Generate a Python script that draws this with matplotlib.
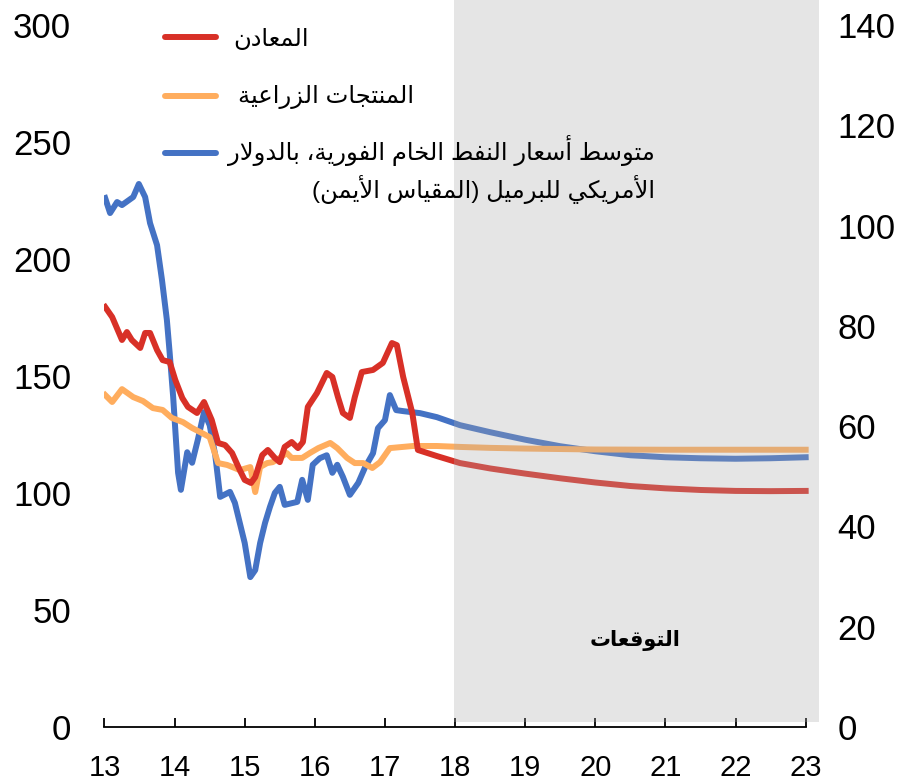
import matplotlib
matplotlib.use("Agg")
import matplotlib.pyplot as plt
from matplotlib.lines import Line2D

plt.rcParams['font.family'] = ['Liberation Sans', 'DejaVu Sans']

# --- minimal Arabic shaping (presentation forms + visual order) ---
_TABLE = [('ء', 0xFE80, 1), ('آ', 0xFE81, 2), ('أ', 0xFE83, 2), ('ؤ', 0xFE85, 2),
          ('إ', 0xFE87, 2), ('ئ', 0xFE89, 4), ('ا', 0xFE8D, 2), ('ب', 0xFE8F, 4),
          ('ة', 0xFE93, 2), ('ت', 0xFE95, 4), ('ث', 0xFE99, 4), ('ج', 0xFE9D, 4),
          ('ح', 0xFEA1, 4), ('خ', 0xFEA5, 4), ('د', 0xFEA9, 2), ('ذ', 0xFEAB, 2),
          ('ر', 0xFEAD, 2), ('ز', 0xFEAF, 2), ('س', 0xFEB1, 4), ('ش', 0xFEB5, 4),
          ('ص', 0xFEB9, 4), ('ض', 0xFEBD, 4), ('ط', 0xFEC1, 4), ('ظ', 0xFEC5, 4),
          ('ع', 0xFEC9, 4), ('غ', 0xFECD, 4), ('ف', 0xFED1, 4), ('ق', 0xFED5, 4),
          ('ك', 0xFED9, 4), ('ل', 0xFEDD, 4), ('م', 0xFEE1, 4), ('ن', 0xFEE5, 4),
          ('ه', 0xFEE9, 4), ('و', 0xFEED, 2), ('ى', 0xFEEF, 2), ('ي', 0xFEF1, 4)]
FORMS = {c: (base, n) for c, base, n in _TABLE}
LAM_ALEF = {'ا': 0xFEFB, 'أ': 0xFEF7, 'إ': 0xFEF9, 'آ': 0xFEF5}


def shape(text):
    # merge lam-alef first
    units = []
    i = 0
    while i < len(text):
        c = text[i]
        if c == 'ل' and i + 1 < len(text) and text[i + 1] in LAM_ALEF:
            units.append(('LA', LAM_ALEF[text[i + 1]]))
            i += 2
        else:
            units.append(('C', c))
            i += 1

    def joining(u):
        if u is None:
            return 'U'
        if u[0] == 'LA':
            return 'R'
        if u[1] in FORMS:
            n = FORMS[u[1]][1]
            return {1: 'U', 2: 'R', 4: 'D'}[n]
        return 'U'

    out = []
    for k, u in enumerate(units):
        prev = units[k - 1] if k > 0 else None
        nxt = units[k + 1] if k + 1 < len(units) else None
        jt = joining(u)
        jp = jt != 'U' and joining(prev) == 'D'
        jn = jt == 'D' and joining(nxt) in ('D', 'R')
        if u[0] == 'LA':
            out.append(chr(u[1] + (1 if jp else 0)))
            continue
        if jt == 'U':
            out.append(u[1])
            continue
        base = FORMS[u[1]][0]
        if jp and jn:
            off = 3
        elif jp:
            off = 1
        elif jn:
            off = 2
        else:
            off = 0
        out.append(chr(base + off))
    vis = ''.join(reversed(out))
    return vis.translate(str.maketrans('()', ')('))


# --- data (years as decimal) ---
metals_t = [13.01, 13.11, 13.25, 13.32, 13.39, 13.51, 13.58, 13.65, 13.75, 13.83, 13.93,
            14.01, 14.11, 14.19, 14.32, 14.42, 14.53, 14.62, 14.72, 14.82, 14.93, 15.00,
            15.09, 15.15, 15.25, 15.33, 15.43, 15.50, 15.57, 15.67, 15.76, 15.83, 15.90,
            16.03, 16.17, 16.25, 16.33, 16.40, 16.50, 16.57, 16.67, 16.83, 16.97, 17.10,
            17.17, 17.26, 17.39, 17.47, 17.74, 18.07, 18.5, 19.0, 19.5, 20.0, 20.5, 21.0,
            21.5, 22.0, 22.5, 23.0]
metals = [179.5, 175.2, 165.4, 168.8, 165.4, 162.0, 168.4, 168.4, 161.1, 156.8, 156.0,
          148.3, 140.6, 136.8, 134.2, 138.9, 131.2, 121.4, 120.5, 117.1, 109.8, 105.6,
          104.3, 106.8, 116.2, 118.4, 115.0, 113.2, 119.7, 121.8, 119.2, 121.8, 136.8,
          142.7, 151.3, 149.6, 141.0, 134.2, 132.1, 141.0, 151.7, 152.6, 155.6, 164.1,
          163.2, 149.6, 134.2, 118.4, 115.8, 112.8, 110.5, 108.3, 106.3, 104.5, 103.0, 102.0,
          101.3, 100.9, 100.8, 100.9]

agri_t = [13.01, 13.11, 13.25, 13.41, 13.55, 13.69, 13.83, 13.96, 14.12, 14.25, 14.36,
          14.50, 14.62, 14.75, 14.93, 15.08, 15.15, 15.22, 15.32, 15.40, 15.50, 15.60,
          15.67, 15.82, 15.93, 16.05, 16.22, 16.32, 16.46, 16.57, 16.69, 16.82, 16.93,
          17.07, 17.40, 17.74, 18.07, 18.5, 19.0, 19.5, 20.0, 21.0, 22.0, 23.0]
agri = [141.9, 138.9, 144.4, 141.0, 139.3, 136.3, 135.5, 132.1, 130.3, 127.8, 126.1,
        123.9, 112.8, 112.0, 109.8, 111.1, 100.4, 111.1, 112.8, 113.2, 115.0, 117.1,
        115.0, 115.0, 117.1, 119.2, 121.4, 119.2, 115.0, 112.8, 112.8, 110.7, 113.2,
        119.2, 120.1, 120.1, 119.7, 119.3, 119.0, 118.8, 118.6, 118.5, 118.5, 118.5]

oil_t = [13.01, 13.08, 13.18, 13.25, 13.41, 13.49, 13.58, 13.65, 13.75, 13.82, 13.89,
         13.93, 13.98, 14.05, 14.09, 14.18, 14.25, 14.33, 14.42, 14.50, 14.58, 14.65,
         14.79, 14.86, 14.93, 15.00, 15.08, 15.15, 15.22, 15.29, 15.36, 15.43, 15.50,
         15.57, 15.75, 15.82, 15.90, 15.97, 16.07, 16.17, 16.25, 16.32, 16.40, 16.50,
         16.62, 16.72, 16.83, 16.90, 17.00, 17.07, 17.16, 17.26, 17.50, 17.74, 18.07,
         18.5, 19.0, 19.5, 20.0, 20.5, 21.0, 21.5, 22.0, 22.5, 23.0]
oil = [105.5, 102.5, 104.7, 104.1, 105.7, 108.3, 105.7, 100.5, 96.1, 89.2, 81.2,
       74.6, 65.8, 50.7, 47.3, 54.8, 52.7, 57.2, 62.8, 60.2, 54.2, 45.9,
       46.9, 44.7, 40.7, 36.7, 29.9, 31.3, 36.7, 40.7, 43.9, 46.7, 47.9,
       44.3, 44.9, 49.3, 45.3, 52.3, 53.6, 54.2, 50.7, 52.3, 49.9, 46.3,
       48.7, 51.9, 54.6, 59.6, 61.2, 66.2, 63.2, 63.0, 62.6, 61.8, 60.2,
       58.8, 57.3, 56.0, 55.0, 54.2, 53.8, 53.6, 53.5, 53.6, 53.8]

year_ticks = list(range(13, 24))
left_ticks = [0, 50, 100, 150, 200, 250, 300]
right_ticks = [0, 20, 40, 60, 80, 100, 120, 140]
forecast_start, forecast_end = 17.98, 23.19

lbl_metals = 'المعادن'
lbl_agri = 'المنتجات الزراعية'
lbl_oil_1 = 'متوسط أسعار النفط الخام الفورية، بالدولار'
lbl_oil_2 = 'الأمريكي للبرميل (المقياس الأيمن)'
lbl_forecast = 'التوقعات'

RED = '#d83027'
ORANGE = '#ffad5e'
BLUE = '#4472c4'

fig = plt.figure(figsize=(8.99, 7.83), dpi=100)
ax = fig.add_axes([0.1162, 0.0715, 0.7948, 0.9285])
ax2 = ax.twinx()
ax.set_zorder(ax2.get_zorder() + 1)
ax.patch.set_visible(False)

lw = 4.3
ax2.plot(oil_t, oil, color=BLUE, lw=lw, solid_joinstyle='round', zorder=2)
ax.plot(agri_t, agri, color=ORANGE, lw=lw, solid_joinstyle='round', zorder=2)
ax.plot(metals_t, metals, color=RED, lw=lw, solid_joinstyle='round', zorder=2)

# forecast shading laid over lines
ax.axvspan(forecast_start, forecast_end, ymin=0.007, ymax=1.0,
           facecolor='#aaaaaa', alpha=0.3, lw=0, zorder=5)

ax.set_xlim(13, forecast_end)
ax.set_ylim(0, 310.7)
ax2.set_ylim(0, 310.7 * 140 / 300)

for a in (ax, ax2):
    for s in ('top', 'left', 'right'):
        a.spines[s].set_visible(False)
ax2.spines['bottom'].set_visible(False)
ax.spines['bottom'].set_bounds(13, 23)
ax.spines['bottom'].set_linewidth(1.3)
ax.spines['bottom'].set_zorder(6)

ax.set_xticks(year_ticks)
ax.set_xticklabels([str(y) for y in year_ticks])
ax.tick_params(axis='x', direction='in', length=6.5, width=1.3, pad=19.5, labelsize=21)
ax.set_yticks(left_ticks)
ax.set_yticklabels([str(v) for v in left_ticks])
ax.tick_params(axis='y', length=0, pad=24, labelsize=25)
ax2.set_yticks(right_ticks)
ax2.set_yticklabels([str(v) for v in right_ticks])
ax2.tick_params(axis='y', length=0, pad=13.5, labelsize=25)

ax.text(20.57, 36.8, shape(lbl_forecast), ha='center', va='center', fontsize=15,
        fontweight='bold', zorder=7)


# legend drawn by hand (handle aligned with first text line)
def fy(py):
    return 1 - py / 783


def fx(px):
    return px / 899


handles = [(RED, 37), (ORANGE, 96), (BLUE, 153)]
for col, py in handles:
    fig.add_artist(Line2D([fx(165), fx(216)], [fy(py), fy(py)], color=col, lw=lw,
                          solid_capstyle='round', transform=fig.transFigure))

fs = 17.5
fig.text(fx(233), fy(40), shape(lbl_metals), ha='left', va='center', fontsize=fs)
fig.text(fx(238), fy(97), shape(lbl_agri), ha='left', va='center', fontsize=fs)
fig.text(fx(655), fy(151), shape(lbl_oil_1), ha='right', va='center', fontsize=fs)
fig.text(fx(655), fy(189), shape(lbl_oil_2), ha='right', va='center', fontsize=fs)

fig.savefig('out.png', dpi=100)
